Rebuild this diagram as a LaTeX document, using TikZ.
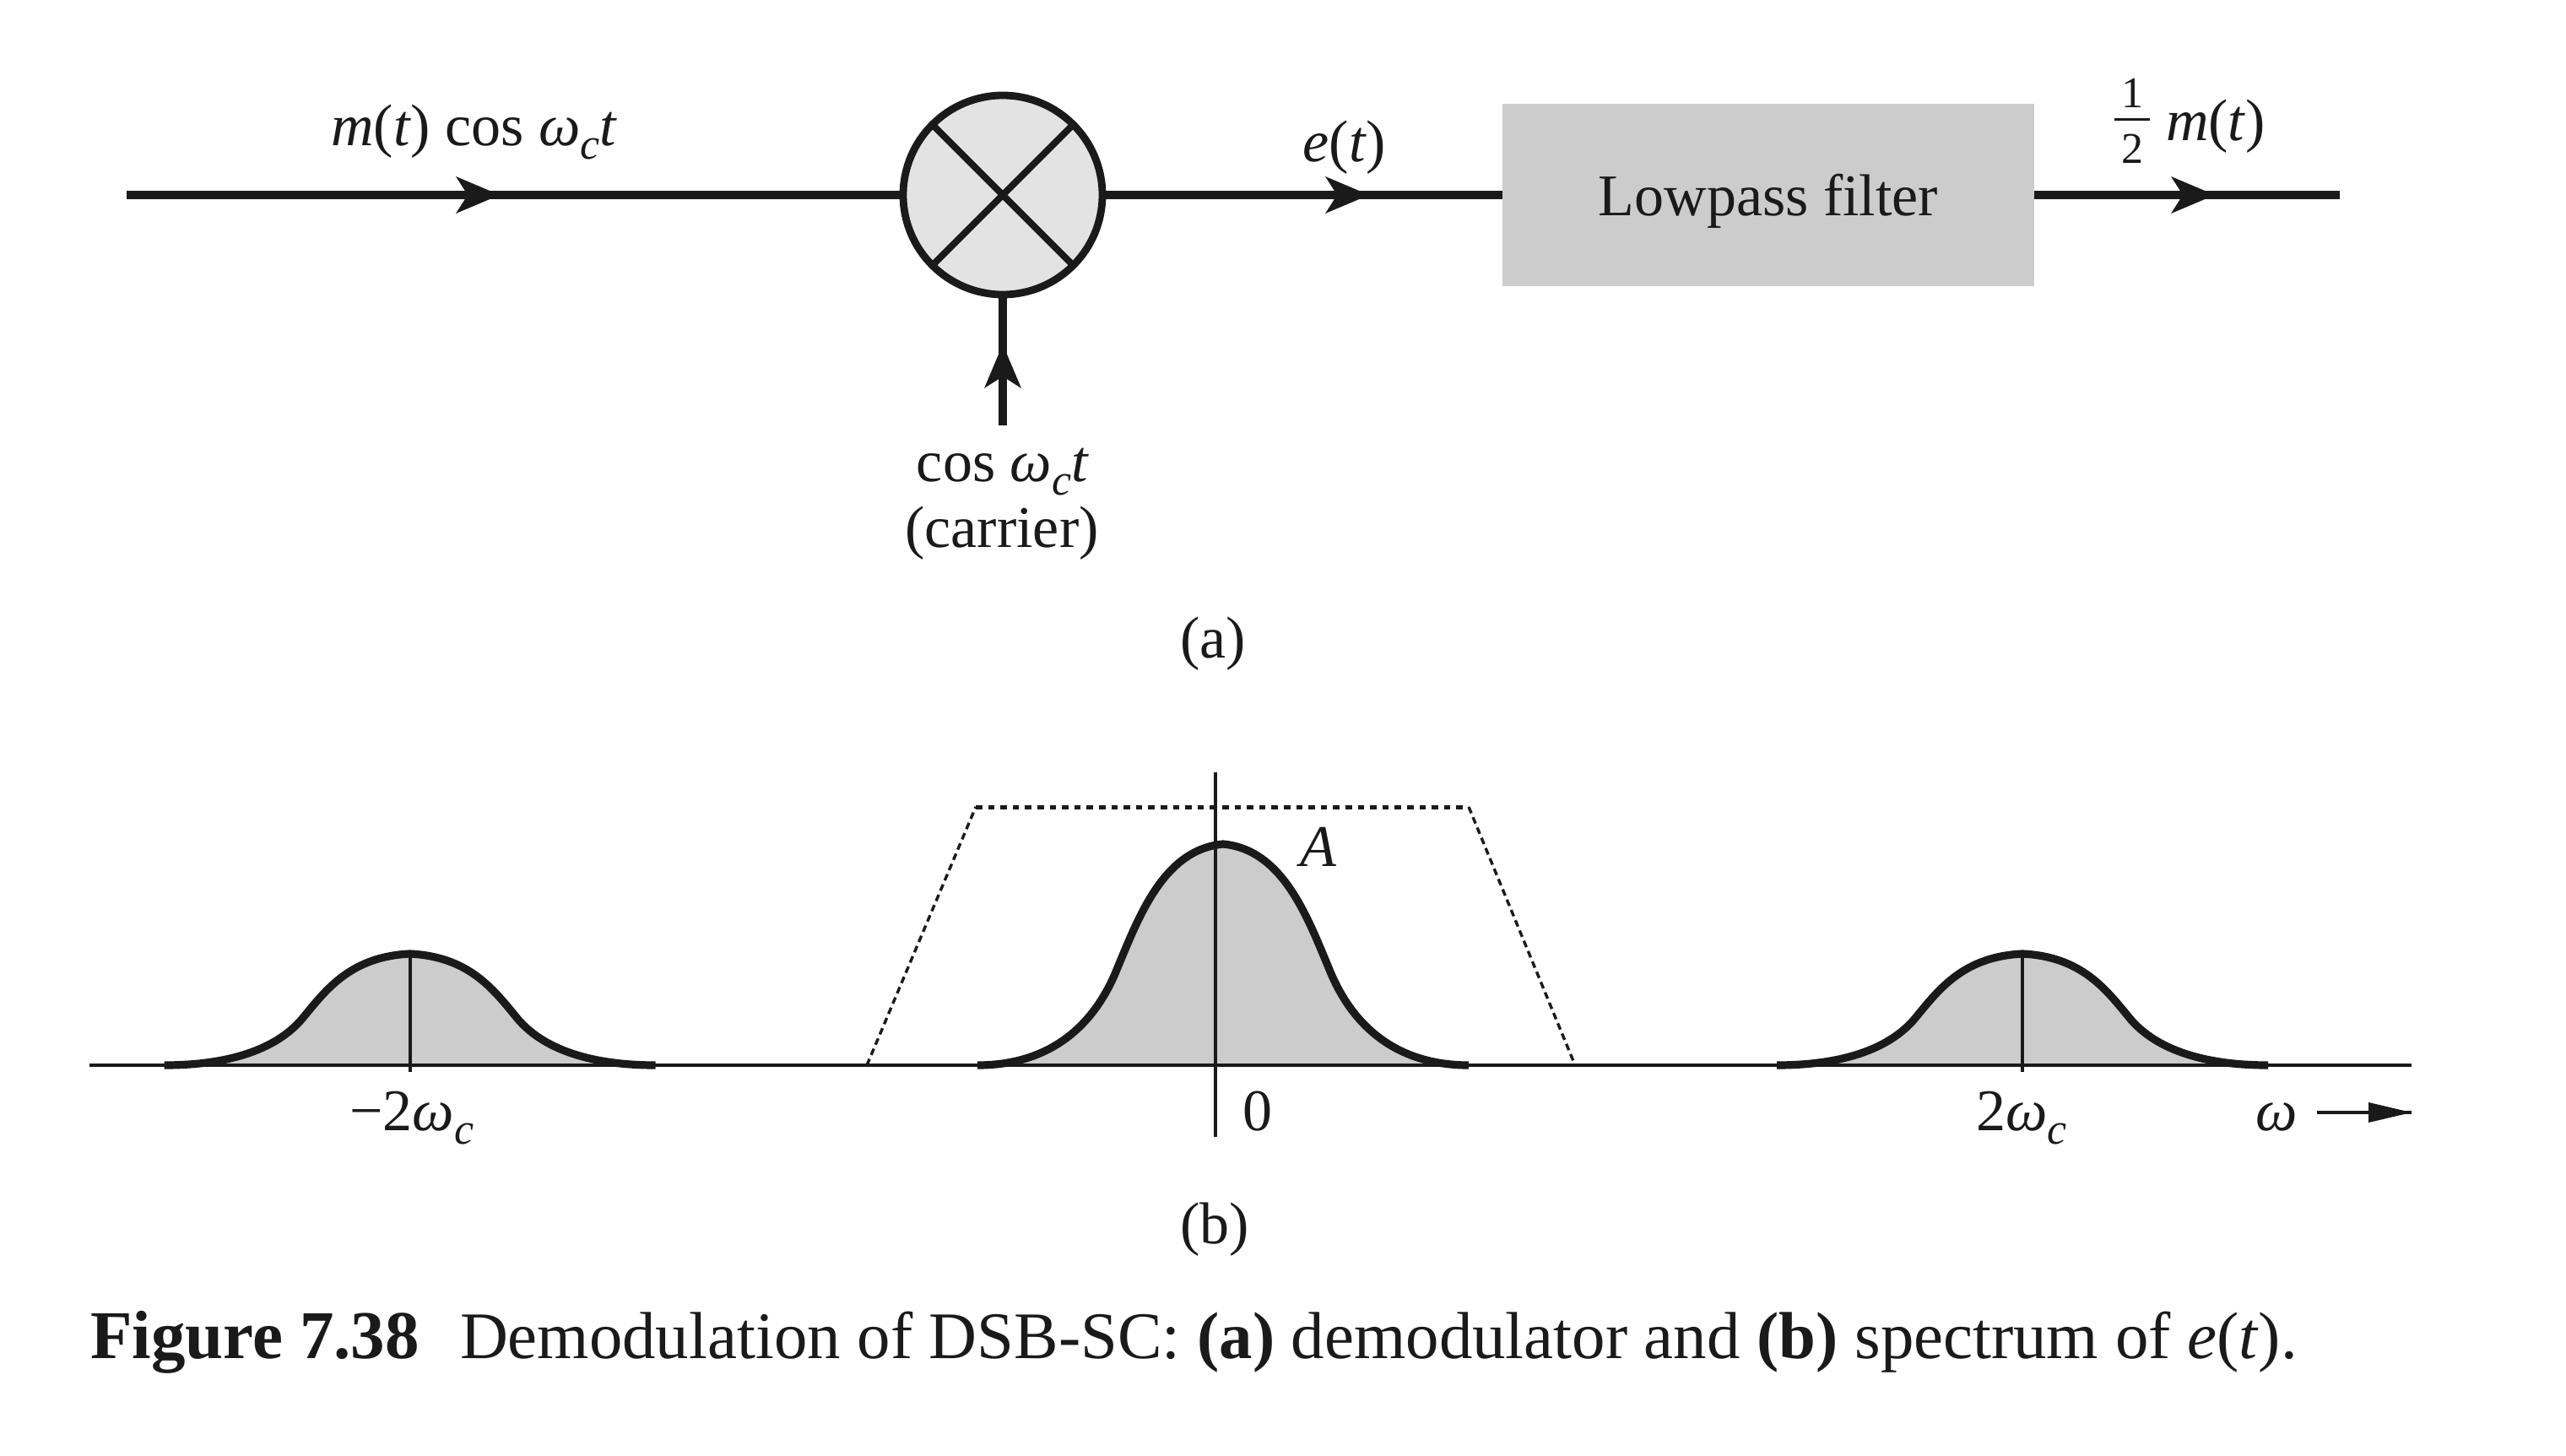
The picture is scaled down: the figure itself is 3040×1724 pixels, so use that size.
\documentclass[tikz,border=0pt]{standalone}
\usepackage{fontspec}
\setmainfont{Liberation Serif}
\usetikzlibrary{decorations.markings}
\definecolor{ink}{HTML}{1A1A1A}
\definecolor{shade}{HTML}{CCCCCC}
\definecolor{mixfill}{HTML}{E3E3E3}
\newcommand{\wc}{\textit{ω}\raisebox{-0.24em}{\fontsize{26}{26}\selectfont\textit{c}}}
\newcommand{\bumpat}[3]{%
  \begin{scope}[shift={(#1,1262)},xscale=291,yscale=-#2]
    \path[#3] (-1,0) .. controls (-.72,0) and (-.53,.16) .. (-.43,.44)
      .. controls (-.34,.68) and (-.24,.975) .. (0,1)
      .. controls (.24,.975) and (.34,.68) .. (.43,.44)
      .. controls (.53,.16) and (.72,0) .. (1,0);
  \end{scope}}
\tikzset{
  x=0.5pt,y=-0.5pt,
  every node/.style={inner sep=0pt,outer sep=0pt,text=ink,font=\fontsize{35}{40}\selectfont},
  lbl/.style={anchor=base},
  wire/.style={draw=ink,line width=4.8pt},
  thinline/.style={draw=ink,line width=2.1pt},
  midhead/.style={postaction={decorate},decoration={markings,mark=at position #1 with {
    \fill[ink] (0,0) -- (-52,22) -- (-38,0) -- (-52,-22) -- cycle;}}},
  mixer/.style={circle,draw=ink,fill=mixfill,line width=4.4pt,minimum size=118pt},
  filterbox/.style={rectangle,fill=shade,minimum width=315pt,minimum height=108pt},
  bumpcurve/.style={draw=ink,line width=4.6pt,line cap=butt,line join=miter},
}
\begin{document}
\begin{tikzpicture}
\useasboundingbox[fill=white] (0,0) rectangle (3040,1724);

% ---- (a) demodulator
\node[mixer] (mix) at (1188,231) {};
\node[filterbox] (lp) at (2095,231) {};
\coordinate (inL) at (150,231);
\coordinate (carr) at (1188,504);
\coordinate (outR) at (2772,231);
\node[lbl] (lptext) at (2095,255) {Lowpass filter};
\draw[wire,midhead=221pt] (inL) -- (mix.west);
\draw[wire,midhead=158pt] (mix.east) -- (lp.west);
\draw[wire,midhead=107pt] (lp.east) -- (outR);
\draw[wire,midhead=48pt] (carr) -- (mix.south);
\draw[draw=ink,line width=4pt] (mix.north west) -- (mix.south east);
\draw[draw=ink,line width=4pt] (mix.north east) -- (mix.south west);

\node[lbl] (inlbl) at (562,172) {\textit{m}(\textit{t}) cos \wc\textit{t}};
\node[lbl] (elbl) at (1593,191) {\textit{e}(\textit{t})};
\node[lbl,font=\fontsize{26}{26}\selectfont] (one) at (2526,127) {1};
\node[lbl,font=\fontsize{26}{26}\selectfont] (two) at (2526,193) {2};
\coordinate (barL) at (2505,141);
\coordinate (barR) at (2547,141);
\draw[draw=ink,line width=1.5pt] (barL) -- (barR);
\node[lbl] (mlbl) at (2625,166) {\textit{m}(\textit{t})};
\node[lbl] (coslbl) at (1188,570) {cos \wc\textit{t}};
\node[lbl] (carlbl) at (1187,648) {(carrier)};
\node[lbl] (alabel) at (1437,779) {(a)};

% ---- (b) spectrum
\bumpat{485.6}{132}{fill=shade}
\bumpat{1449}{262}{fill=shade}
\bumpat{2396}{132}{fill=shade}

\coordinate (axL) at (106,1262);
\coordinate (axR) at (2857,1262);
\draw[thinline] (axL) -- (axR);

\coordinate (vT) at (1440,915);
\coordinate (vB) at (1440,1347);
\draw[thinline] (vT) -- (vB);
\coordinate (lT) at (485.6,1130);
\coordinate (lB) at (485.6,1270);
\draw[thinline] (lT) -- (lB);
\coordinate (rT) at (2396,1130);
\coordinate (rB) at (2396,1270);
\draw[thinline] (rT) -- (rB);

\bumpat{485.6}{132}{bumpcurve}
\bumpat{1449}{262}{bumpcurve}
\bumpat{2396}{132}{bumpcurve}

% passband
\coordinate (t1) at (1027,1262);
\coordinate (t2) at (1156,956);
\coordinate (t3) at (1740,956);
\coordinate (t4) at (1866,1262);
\draw[draw=ink,line width=1.7pt,dash pattern=on 4pt off 2.6pt] (t1) -- (t2);
\draw[draw=ink,line width=2.5pt,dash pattern=on 3.8pt off 3.5pt] (t2) -- (t3);
\draw[draw=ink,line width=1.7pt,dash pattern=on 4pt off 2.6pt] (t3) -- (t4);

\node[lbl] (Alabel) at (1562,1026) {\textit{A}};
\node[lbl] (zero) at (1490,1339) {0};
\node[lbl] (mtwo) at (488,1339) {−2\wc};
\node[lbl] (ptwo) at (2395,1339) {2\wc};
\node[lbl] (wlbl) at (2697,1339) {\textit{ω}};
\coordinate (wS) at (2745,1318);
\coordinate (wE) at (2857,1318);
\draw[thinline] (wS) -- (wE);
\fill[ink] (wE) -- (2806,1306) -- (2806,1330) -- cycle;
\node[lbl] (blabel) at (1439,1473) {(b)};

% ---- caption
\node[anchor=base west,font=\fontsize{40.5}{44}\selectfont] (caphead) at (107,1609) {\textbf{Figure 7.38}};
\node[anchor=base west,font=\fontsize{39.4}{44}\selectfont] (captext) at (545,1609) {Demodulation of DSB-SC: \textbf{(a)} demodulator and \textbf{(b)} spectrum of \textit{e}(\textit{t}).};
\end{tikzpicture}
\end{document}
